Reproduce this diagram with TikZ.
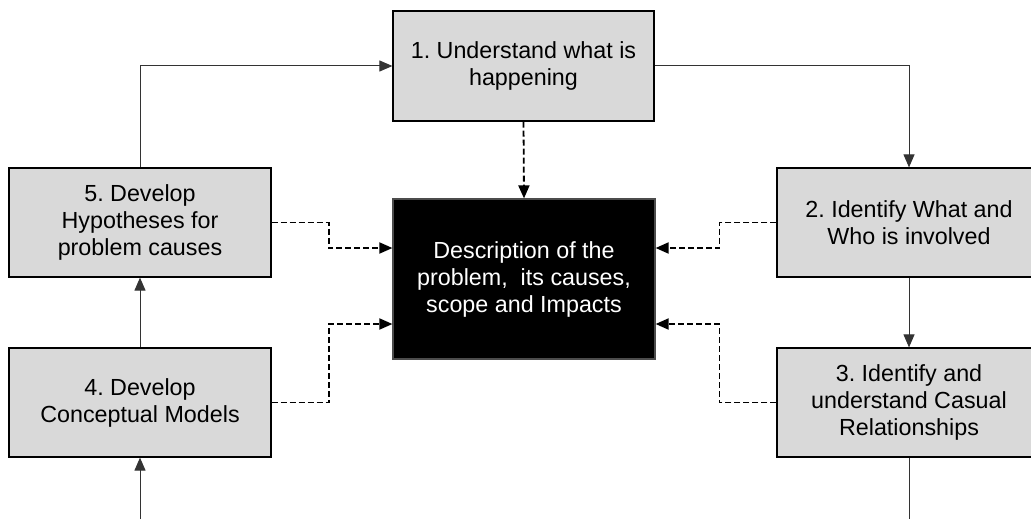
\documentclass[tikz,border=0pt]{standalone}
\usepackage{fontspec}
\setmainfont{Liberation Sans}
\usepackage{tikz}
\usetikzlibrary{calc,arrows.meta}
\newcommand{\pxsize}{0.5pt}
\frenchspacing
\tikzset{
	stepnode/.style={draw=black, line width=0.6pt, fill=black!15, inner sep=0pt, align=center, minimum width=#1},
	stepnode/.default=131pt,
	goalnode/.style={draw=black!70, line width=0.6pt, fill=black, text=white, inner sep=0pt, align=center, minimum width=131pt, minimum height=80pt},
	flow/.style={draw=black!80, line width=0.5pt, -{Triangle[length=6.5pt,width=5.5pt]}},
	dashflow/.style={draw=black, line width=0.9pt, dash pattern=on 3pt off 1.5pt, -{Triangle[length=6.5pt,width=5.5pt]}}
}

\begin{document}
\begin{tikzpicture}[x=\pxsize,y=-\pxsize,font=\fontsize{11.65}{13.5}\selectfont]
	\useasboundingbox (0,0) rectangle (1031,519);
	\clip (0,0) rectangle (1031,519);

	\node[stepnode=130.5pt, minimum height=55pt] (understand) at (523.5,66) {1. Understand what is\\happening};
	\node[stepnode=132pt, minimum height=54.5pt] (identify) at (909,222.5) {2. Identify What and\\Who is involved};
	\node[stepnode=132pt, minimum height=54.5pt] (causal) at (909,402.5) {3. Identify and\\understand Casual\\Relationships};
	\node[stepnode, minimum height=54.5pt] (models) at (140,402.5) {4. Develop\\Conceptual Models};
	\node[stepnode, minimum height=54.5pt] (hypo) at (140,222.5) {5. Develop\\Hypotheses for\\problem causes};
	\node[goalnode] (problem) at (524,279) {Description of the\\problem,\ \ its causes,\\scope and Impacts};

	\coordinate (loopin) at (140,519);
	\coordinate (loopout) at (909,519);

	\draw[flow] (hypo.north) |- (understand.west);
	\draw[flow] (understand.east) -| (identify.north);
	\draw[flow] (identify.south) -- (causal.north);
	\draw[draw=black!80, line width=0.5pt] (causal.south) -- (loopout);
	\draw[flow] (loopin) -- (models.south);
	\draw[flow] (models.north) -- (hypo.south);

	\draw[dashflow] (understand.south) -- (problem.north);
	\draw[dashflow] (hypo.east) -- ++(57,0) |- ($(problem.west)+(0,-31)$);
	\draw[dashflow] (models.east) -- ++(57,0) |- ($(problem.west)+(0,45)$);
	\draw[dashflow] (identify.west) -- ++(-57,0) |- ($(problem.east)+(0,-31)$);
	\draw[dashflow] (causal.west) -- ++(-57,0) |- ($(problem.east)+(0,45)$);

\end{tikzpicture}
\end{document}
